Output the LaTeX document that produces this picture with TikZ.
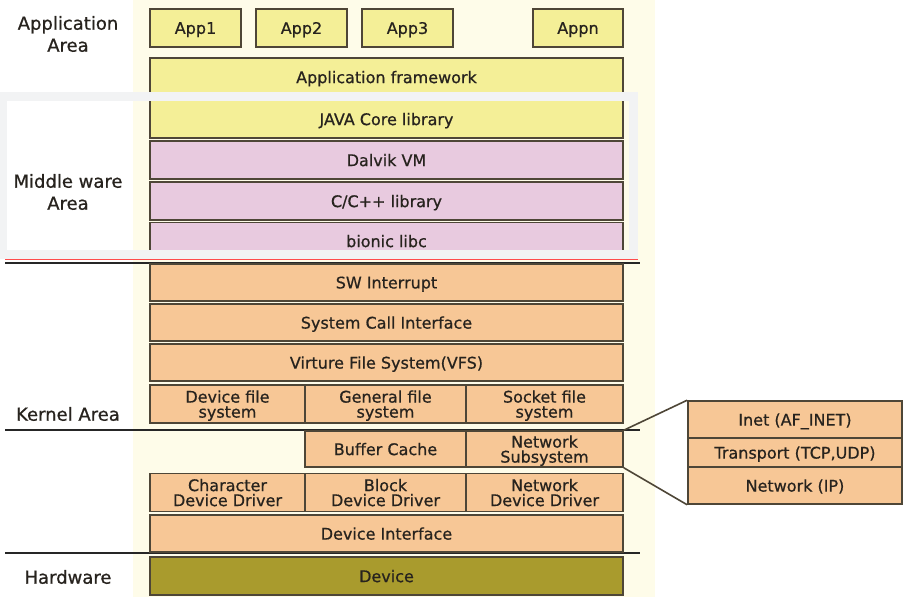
\documentclass[tikz,border=0pt]{standalone}
\usepackage{fontspec}
\setmainfont{DejaVu Sans}
\newfontfamily\diagfont{DejaVu Sans}[FakeBold=0.7]

\definecolor{appyellow}{HTML}{F4EF97}
\definecolor{midpink}{HTML}{E8CADF}
\definecolor{kernpeach}{HTML}{F7C796}
\definecolor{hwolive}{HTML}{A99B2D}
\definecolor{boxline}{HTML}{4E4637}
\definecolor{colbg}{HTML}{FEFCE9}
\definecolor{bandgray}{HTML}{F2F3F4}
\definecolor{txt}{HTML}{27231E}

\begin{document}
\begin{tikzpicture}[x=1pt,y=-1pt,
    layer/.style={draw=boxline,line width=1.6pt,text=txt,inner sep=0pt,align=center,
        text depth=0pt,font=\diagfont\fontsize{16}{15}\selectfont},
    area/.style={text=txt,align=center,font=\diagfont\fontsize{18}{22}\selectfont},
    sep/.style={line width=2pt,black!85}]
    \useasboundingbox (0,0) rectangle (903,597);
    \fill[white] (0,0) rectangle (903,597);

    % Background column
    \fill[colbg] (133,0) rectangle (655,597);

    % Application area
    \foreach \name/\cx/\w/\lbl in {app1/195.5/91/App1, app2/301.5/91/App2, app3/407.5/91/App3, appn/578/90/Appn} {
        \node[layer,fill=appyellow,minimum width=\w pt,minimum height=38pt] (\name) at (\cx,28) {\lbl};
    }
    \node[layer,fill=appyellow,minimum width=473pt,minimum height=38pt] (framework) at (386.5,77) {Application framework};
    \node[area] (apparea) at (68,34) {Application\\Area};

    % Middle ware area
    \node[layer,fill=appyellow,minimum width=473pt,minimum height=38pt] (javacore) at (386.5,119) {JAVA Core library};
    \node[layer,fill=midpink,minimum width=473pt,minimum height=38pt] (dalvik) at (386.5,160) {Dalvik VM};
    \node[layer,fill=midpink,minimum width=473pt,minimum height=38pt] (clib) at (386.5,201) {C/C++ library};
    \node[layer,fill=midpink,minimum width=473pt,minimum height=37pt] (bionic) at (386.5,241) {bionic libc};
    \node[area] (midarea) at (68,192) {Middle ware\\Area};

    % Highlight frame (screen capture)
    \draw[bandgray,line width=9pt] (2,96.5) rectangle (633,254);

    % Area borders
    \draw[red!70,line width=1pt] (5,259.5) -- (638,259.5);
    \draw[sep] (5,262.5) -- (640,262.5);
    \draw[sep] (5,430) -- (640,430);
    \draw[sep] (5,553) -- (640,553);

    % Kernel area
    \node[layer,fill=kernpeach,minimum width=473pt,minimum height=37pt] (swint) at (386.5,282.5) {SW Interrupt};
    \node[layer,fill=kernpeach,minimum width=473pt,minimum height=37pt] (syscall) at (386.5,322.5) {System Call Interface};
    \node[layer,fill=kernpeach,minimum width=473pt,minimum height=37pt] (vfs) at (386.5,362.5) {Virture File System(VFS)};
    \node[layer,fill=kernpeach,minimum width=155pt,minimum height=38pt] (devfs) at (227.5,404) {Device file\\system};
    \node[layer,fill=kernpeach,minimum width=161pt,minimum height=38pt] (genfs) at (385.5,404) {General file\\system};
    \node[layer,fill=kernpeach,minimum width=157pt,minimum height=38pt] (sockfs) at (544.5,404) {Socket file\\system};
    \node[layer,fill=kernpeach,minimum width=161pt,minimum height=36pt] (bufcache) at (385.5,449) {Buffer Cache};
    \node[layer,fill=kernpeach,minimum width=157pt,minimum height=36pt] (netsub) at (544.5,449) {Network\\Subsystem};
    \node[layer,fill=kernpeach,minimum width=155pt,minimum height=38pt] (chardrv) at (227.5,492.5) {Character\\Device Driver};
    \node[layer,fill=kernpeach,minimum width=161pt,minimum height=38pt] (blockdrv) at (385.5,492.5) {Block\\Device Driver};
    \node[layer,fill=kernpeach,minimum width=157pt,minimum height=38pt] (netdrv) at (544.5,492.5) {Network\\Device Driver};
    \node[layer,fill=kernpeach,minimum width=473pt,minimum height=37pt] (devif) at (386.5,533.5) {Device Interface};
    \node[area] (kernarea) at (68,414) {Kernel Area};

    % Network subsystem detail
    \node[layer,fill=kernpeach,minimum width=214pt,minimum height=37pt] (inet) at (795,419.5) {Inet (AF\_INET)};
    \node[layer,fill=kernpeach,minimum width=214pt,minimum height=29pt] (transport) at (795,452.5) {Transport (TCP,UDP)};
    \node[layer,fill=kernpeach,minimum width=214pt,minimum height=37pt] (netip) at (795,485.5) {Network (IP)};
    \draw[boxline,line width=1.6pt] (netsub.north east) -- (inet.north west);
    \draw[boxline,line width=1.6pt] (netsub.south east) -- (netip.south west);

    % Hardware
    \node[layer,fill=hwolive,minimum width=473pt,minimum height=38pt] (device) at (386.5,576) {Device};
    \node[area] (hwarea) at (68,577) {Hardware};
\end{tikzpicture}
\end{document}
